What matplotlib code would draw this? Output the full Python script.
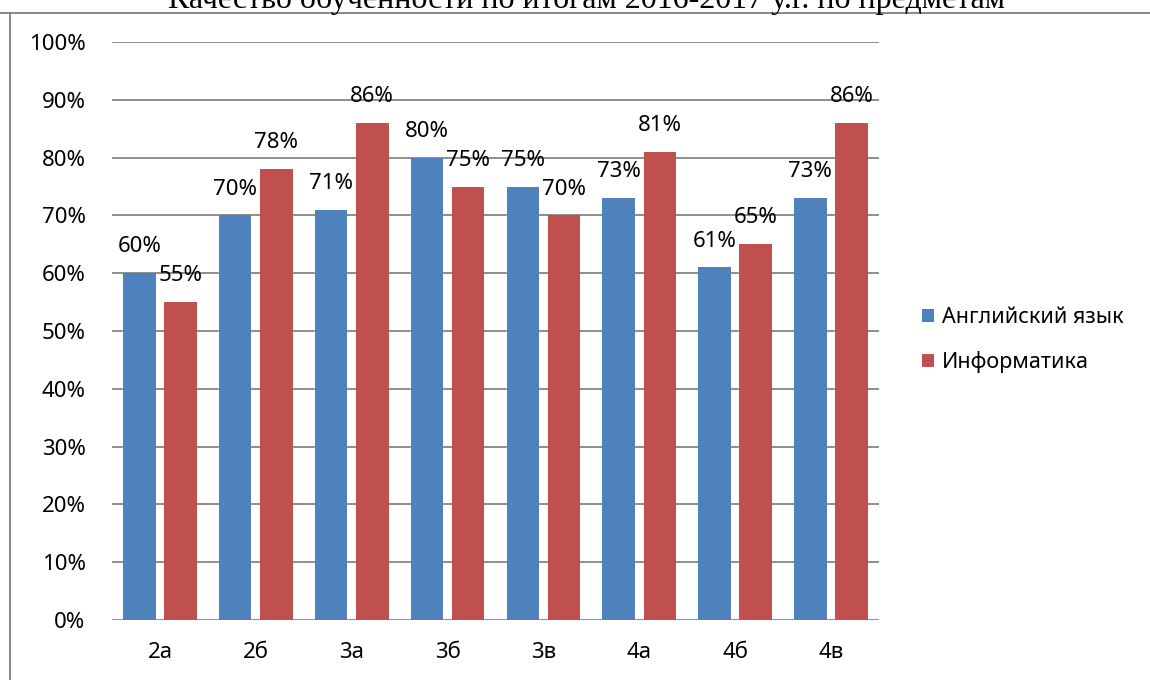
import matplotlib.pyplot as plt
from matplotlib.lines import Line2D
import numpy as np

classes = ['2а', '2б', '3а', '3б', '3в', '4а', '4б', '4в']
english = [60, 70, 71, 80, 75, 73, 61, 73]
informatics = [55, 78, 86, 75, 70, 81, 65, 86]
title = 'Качество обученности по итогам 2016-2017 у.г. по предметам'

plt.rcParams['font.family'] = ['Noto Sans', 'DejaVu Sans']
fs = 16

fig = plt.figure(figsize=(11.5, 6.8), dpi=100)
ax = fig.add_axes([0.0974, 0.0882, 0.6669, 0.85])

x = np.arange(len(classes)) + 0.5
w = 0.34
b1 = ax.bar(x - 0.215, english, w, color='#4F81BD', label='Английский язык', zorder=2)
b2 = ax.bar(x + 0.215, informatics, w, color='#C0504D', label='Информатика', zorder=2)

for bars, vals in ((b1, english), (b2, informatics)):
    for r, v in zip(bars, vals):
        ax.annotate(f'{v}%', (r.get_x() + r.get_width() / 2, v), xytext=(0, 19),
                    textcoords='offset points', ha='center', va='center',
                    fontsize=fs, zorder=3)

ax.set_xlim(0, len(classes))
ax.set_ylim(0, 100)
ax.set_yticks(range(0, 101, 10))
ax.set_yticklabels([f'{t}%' for t in range(0, 101, 10)])
ax.set_xticks(x)
ax.set_xticklabels(classes)
ax.tick_params(length=0, labelsize=fs)
ax.tick_params(axis='y', pad=19)
ax.tick_params(axis='x', pad=16)
ax.grid(axis='y', color='#868686', linewidth=1.3, zorder=1)
for s in ax.spines.values():
    s.set_visible(False)

ax.legend(loc='center left', bbox_to_anchor=(0.785, 0.5), bbox_transform=fig.transFigure,
          frameon=False, fontsize=15.5, handlelength=0.55, handleheight=0.55,
          handletextpad=0.35, labelspacing=1.1)

# frame of the document page
fig.add_artist(Line2D([0, 1], [1 - 13 / 680, 1 - 13 / 680], color='#7f7f7f', lw=1.3))
fig.add_artist(Line2D([10 / 1150, 10 / 1150], [0, 1 - 13 / 680], color='#7f7f7f', lw=1.3))
fig.text(0.51, 1 - 8 / 680, title, ha='center', va='baseline',
         family='Liberation Serif', fontsize=23)

fig.savefig('out.png', dpi=100)
